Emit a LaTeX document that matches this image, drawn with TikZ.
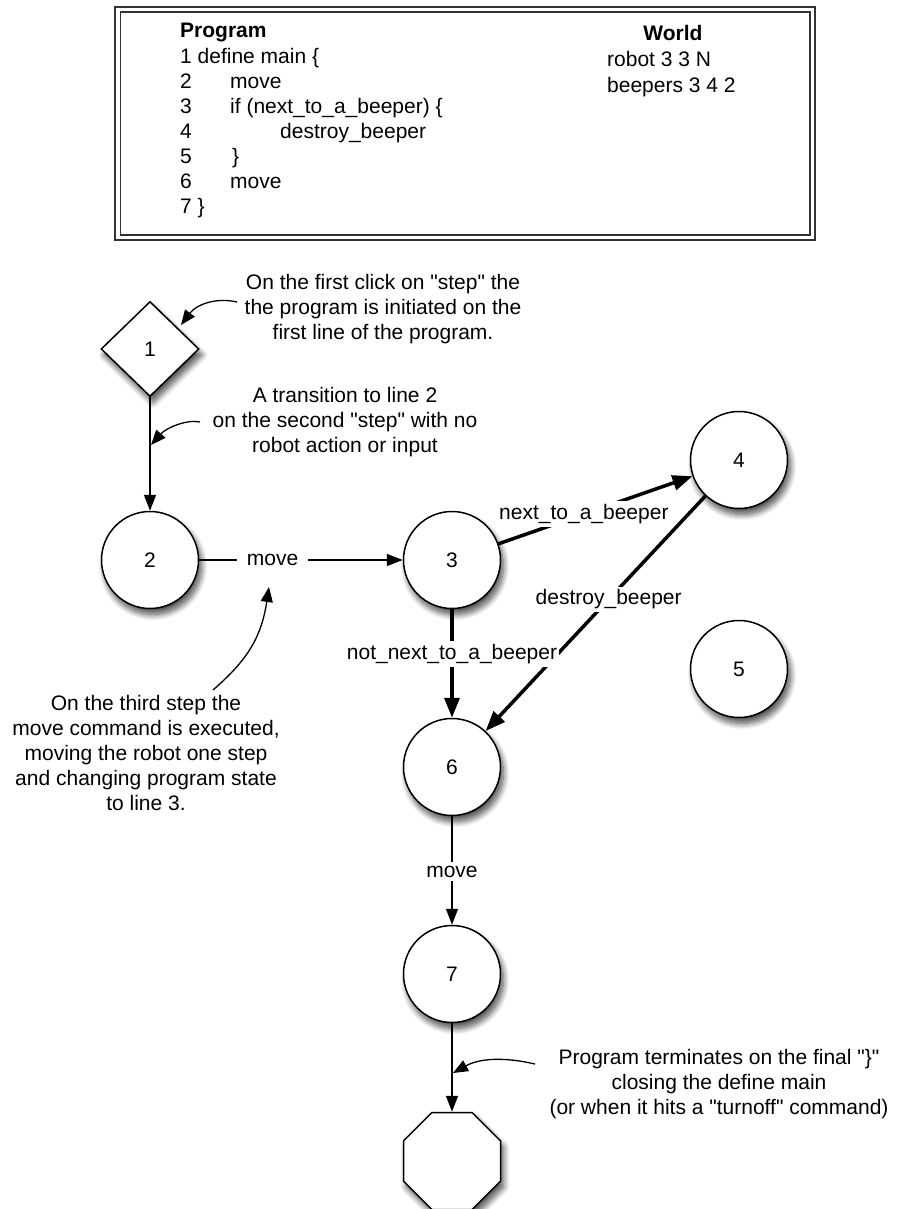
\documentclass[tikz,border=0pt]{standalone}
\usepackage{fontspec}
\newfontfamily\nf{Liberation Sans}
\usetikzlibrary{shapes.geometric,arrows.meta,shadows.blur}
\begin{document}
\begin{tikzpicture}[x=1pt,y=-1pt,
  every node/.style={font=\nf\fontsize{21}{25}\selectfont},
  shad/.style={blur shadow={shadow xshift=3pt,shadow yshift=-6pt,shadow blur radius=6pt,shadow blur steps=10,shadow opacity=70}},
  state/.style={circle,draw,line width=1.5pt,fill=white,minimum size=97pt,inner sep=0pt,shad},
  startbox/.style={diamond,draw,line width=1.5pt,fill=white,minimum width=98pt,minimum height=95pt,inner sep=0pt,shad},
  endbox/.style={regular polygon,regular polygon sides=8,draw,line width=1.5pt,fill=white,minimum size=105pt,inner sep=0pt,shad},
  thinedge/.style={line width=1.5pt,-{Triangle[length=16pt,width=12pt]}},
  thickedge/.style={line width=3.5pt,-{Triangle[length=20pt,width=15pt]}},
  calloutarrow/.style={line width=1.3pt,-{Triangle[length=15pt,width=12pt]}},
  lbl/.style={fill=white,inner xsep=10pt,inner ysep=4pt},
  lblthick/.style={fill=white,inner xsep=2pt,inner ysep=3pt},
  note/.style={align=center},
  code/.style={anchor=west,inner sep=0pt,text height=15pt,text depth=4pt},
  boxline/.style={draw=black!80,line width=1.3pt}
]
\useasboundingbox (0,0) rectangle (898,1209);

% program / world frame
\draw[boxline] (115,7) rectangle (815,240);
\draw[boxline] (120.5,12) rectangle (810,235);

\node[code,font=\nf\fontsize{21}{25}\selectfont\bfseries] (ph) at (180,32) {Program};
\node[code] (p1) at (180,58) {1 define main \{};
\node[code] (p2) at (180,83) {\makebox[50pt][l]{2}move};
\node[code] (p3) at (180,108) {\makebox[50pt][l]{3}if (next\_to\_a\_beeper) \{};
\node[code] (p4) at (180,133) {\makebox[100pt][l]{4}destroy\_beeper};
\node[code] (p5) at (180,158) {\makebox[52pt][l]{5}\}};
\node[code] (p6) at (180,183) {\makebox[50pt][l]{6}move};
\node[code] (p7) at (180,208) {7 \}};

\node[code,anchor=center,font=\nf\fontsize{21}{25}\selectfont\bfseries] (wh) at (673,35) {World};
\node[code] (w1) at (607,61) {robot 3 3 N};
\node[code] (w2) at (607,87) {beepers 3 4 2};

% states
\node[startbox] (n1) at (150,349) {1};
\node[state] (n2) at (150,560) {2};
\node[state] (n3) at (452,560) {3};
\node[state] (n4) at (739,460) {4};
\node[state] (n5) at (739,669) {5};
\node[state] (n6) at (452,767) {6};
\node[state] (n7) at (452,974) {7};
\node[endbox] (n8) at (452,1161) {};

% transitions
\draw[thinedge] (n1) -- (n2);
\draw[thinedge] (n2) -- node[lbl,pos=0.36] (l23) {move} (n3);
\draw[thickedge] (n3) -- node[lblthick,pos=0.44] (l34) {next\_to\_a\_beeper} (n4);
\draw[thickedge] (n4) -- node[lblthick,pos=0.44] (l46) {destroy\_beeper} (n6);
\draw[thickedge] (n3) -- node[lblthick,pos=0.41] (l36) {not\_next\_to\_a\_beeper} (n6);
\draw[thinedge] (n6) -- node[lbl,pos=0.51] (l67) {move} (n7);
\draw[thinedge] (n7) -- (n8);

% callouts
\node[note] (c1) at (383,309) {On the first click on "step" the\\the program is initiated on the\\first line of the program.};
\node[note] (c2) at (345,422) {A transition to line 2\\on the second "step" with no\\robot action or input};
\node[note] (c3) at (146,753) {On the third step the\\move command is executed,\\moving the robot one step\\and changing program state\\to line 3.};
\node[note] (c4) at (719,1084) {Program terminates on the final "\}"\\closing the define main\\(or when it hits a "turnoff" command)};

\coordinate (a1s) at (237,302);
\coordinate (a1e) at (181,325);
\coordinate (a2s) at (200,422);
\coordinate (a2e) at (151,445);
\coordinate (a3s) at (213,690);
\coordinate (a3e) at (269,587);
\coordinate (a4s) at (535,1064);
\coordinate (a4e) at (453,1073);

\draw[calloutarrow] (a1s) .. controls (215,297) and (196,305) .. (a1e);
\draw[calloutarrow] (a2s) .. controls (187,419) and (166,428) .. (a2e);
\draw[calloutarrow] (a3s) .. controls (245,662) and (261,640) .. (a3e);
\draw[calloutarrow] (a4s) .. controls (505,1057) and (480,1058) .. (a4e);
\end{tikzpicture}
\end{document}
